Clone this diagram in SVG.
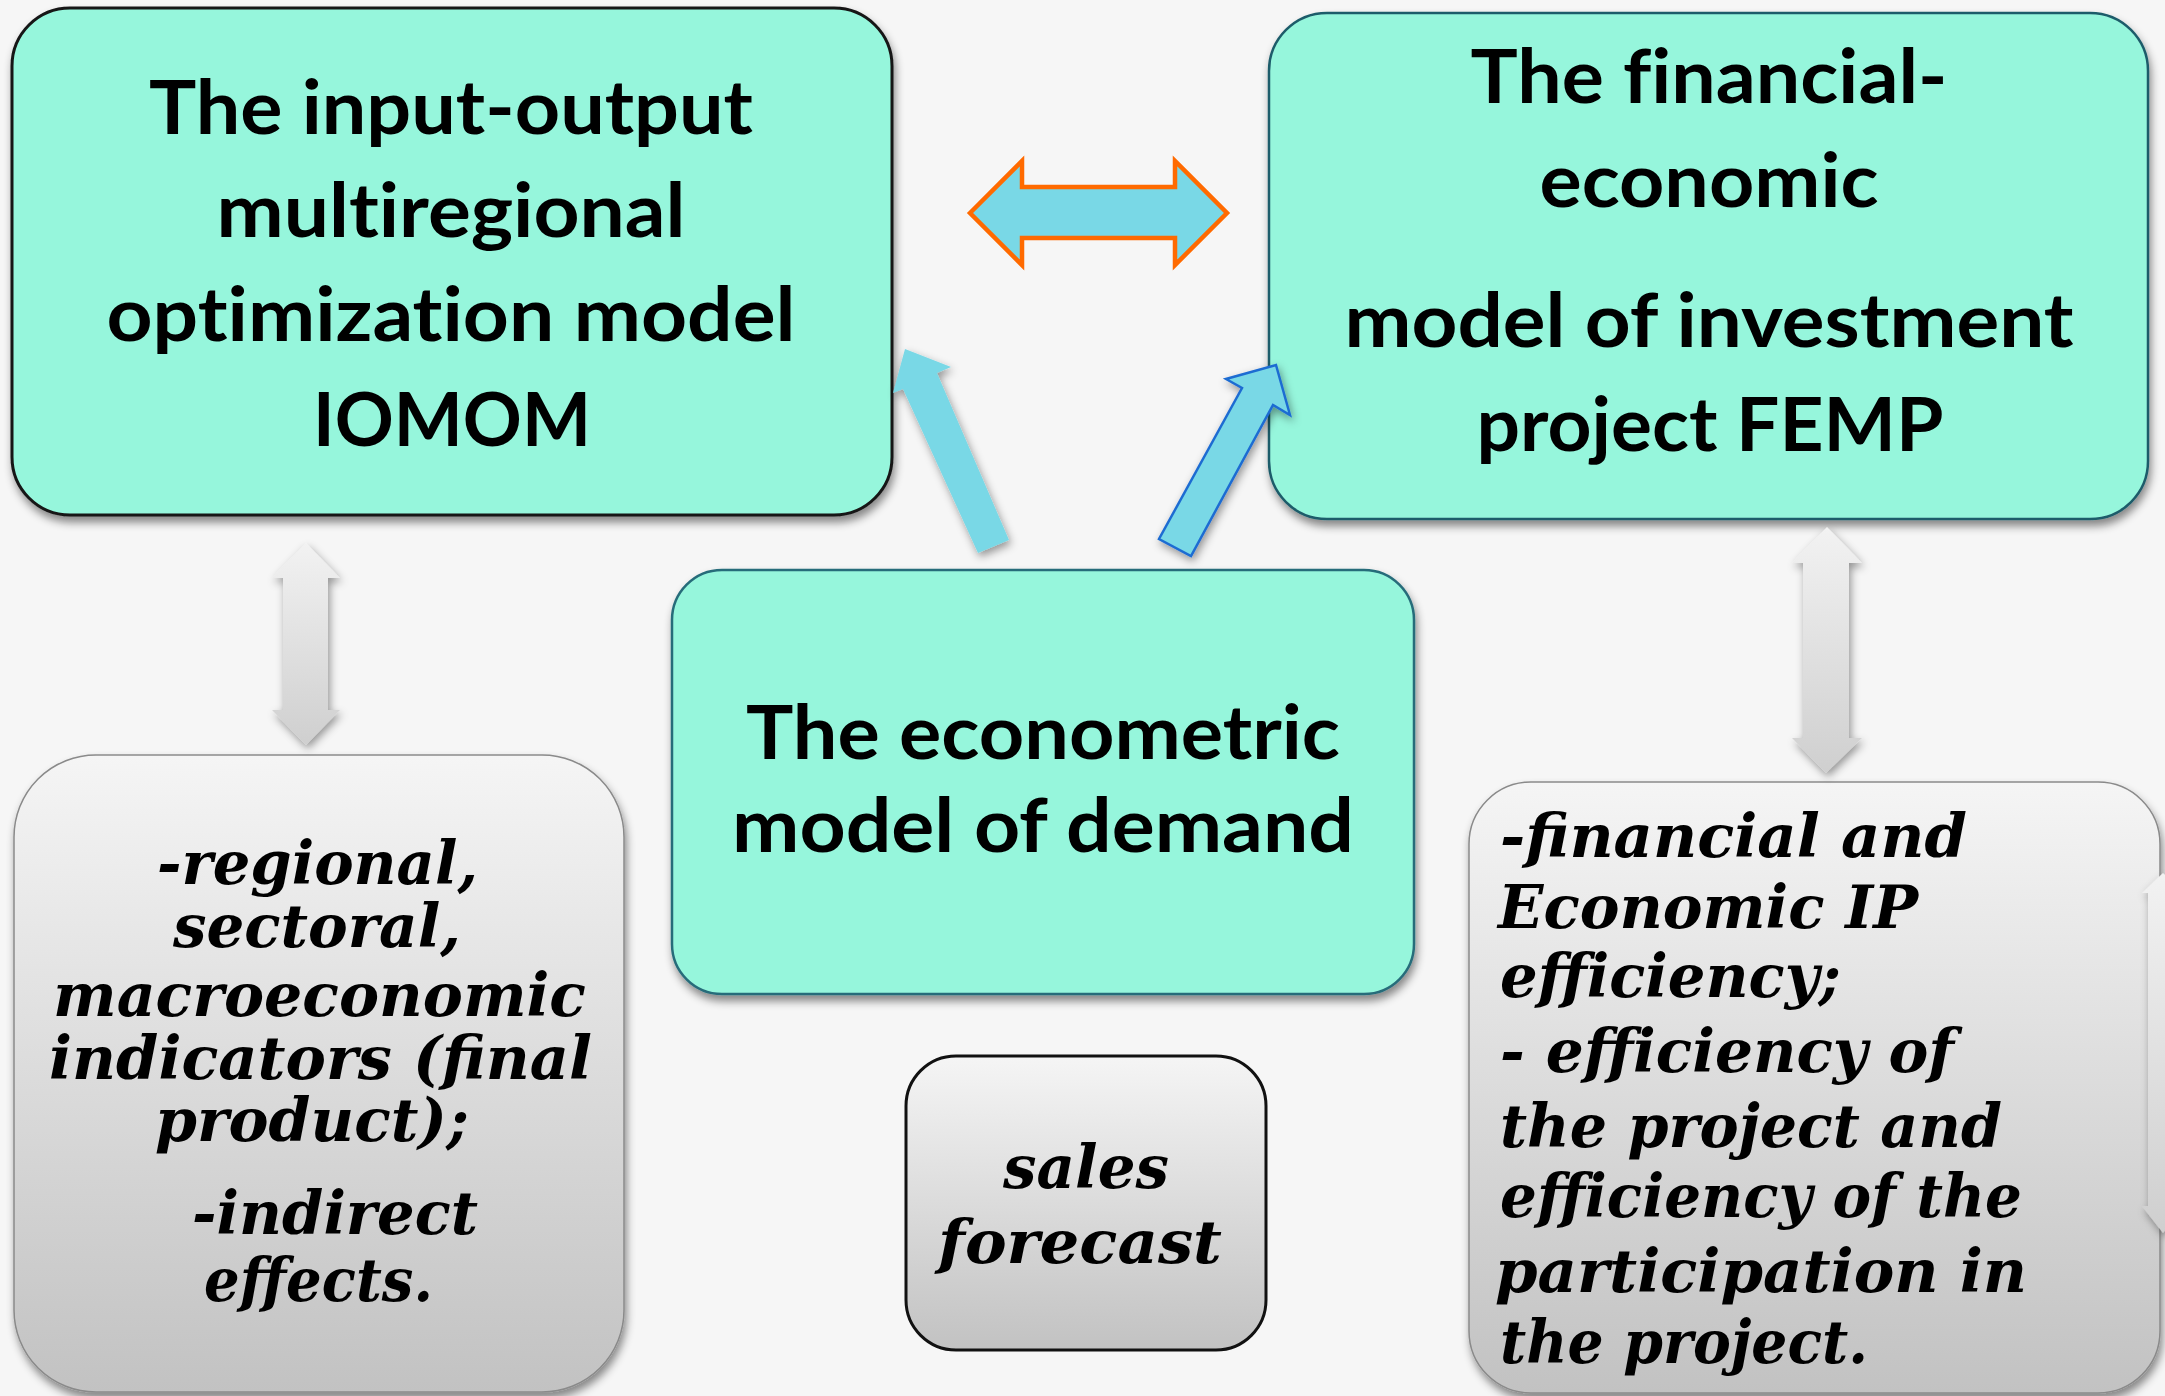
<svg xmlns="http://www.w3.org/2000/svg" width="2165" height="1396" viewBox="0 0 2165 1396">
  <defs>
    <style>
      .model { fill: #96F6DC; }
      .title { font-family: Lato, "Open Sans", "Liberation Sans", sans-serif; font-weight: 700; font-size: 75px; fill: #000; text-anchor: middle; font-variant-ligatures: none; font-feature-settings: "liga" 0, "dlig" 0; }
      .note { font-family: "DejaVu Serif", "Liberation Serif", serif; font-style: italic; font-weight: 700; font-size: 60px; fill: #000; }
      .flow { fill: #79D8E6; }
    </style>
    <linearGradient id="greyFill" x1="0" y1="0" x2="0" y2="1">
      <stop offset="0" stop-color="#F5F5F5"/>
      <stop offset="1" stop-color="#C2C2C2"/>
    </linearGradient>
    <linearGradient id="greyArrow" x1="0" y1="0" x2="0" y2="1">
      <stop offset="0" stop-color="#F2F2F2"/>
      <stop offset="1" stop-color="#CFCFCF"/>
    </linearGradient>
    <filter id="shadow" x="-10%" y="-10%" width="120%" height="130%">
      <feDropShadow dx="2" dy="6" stdDeviation="4" flood-color="#000" flood-opacity="0.45"/>
    </filter>
    <filter id="softShadow" x="-30%" y="-10%" width="160%" height="130%">
      <feDropShadow dx="2" dy="4" stdDeviation="4" flood-color="#000" flood-opacity="0.4"/>
    </filter>
  </defs>

  <!-- page background -->
  <rect x="0" y="0" width="2165" height="1396" fill="#F6F6F6"/>

  <!-- input-output model -->
  <g id="node-iomom">
    <rect class="model" x="12" y="8" width="880" height="507" rx="58" stroke="#151515" stroke-width="3" filter="url(#shadow)"/>
    <text class="title" x="451" y="134" textLength="604" lengthAdjust="spacingAndGlyphs">The input-output</text>
    <text class="title" x="451" y="237" textLength="469" lengthAdjust="spacingAndGlyphs">multiregional</text>
    <text class="title" x="451" y="341" textLength="689" lengthAdjust="spacingAndGlyphs">optimization model</text>
    <text class="title" x="452" y="446" textLength="278" lengthAdjust="spacingAndGlyphs">IOMOM</text>
  </g>

  <!-- financial-economic model -->
  <g id="node-femp">
    <rect class="model" x="1269" y="13" width="879" height="506" rx="58" stroke="#1F5C6A" stroke-width="2.5" filter="url(#shadow)"/>
    <text class="title" x="1709" y="103" textLength="477" lengthAdjust="spacingAndGlyphs">The financial-</text>
    <text class="title" x="1709" y="207" textLength="339" lengthAdjust="spacingAndGlyphs">economic</text>
    <text class="title" x="1709" y="347" textLength="729" lengthAdjust="spacingAndGlyphs">model of investment</text>
    <text class="title" x="1710" y="451" textLength="467" lengthAdjust="spacingAndGlyphs">project FEMP</text>
  </g>

  <!-- econometric model -->
  <g id="node-demand">
    <rect class="model" x="672" y="570" width="742" height="424" rx="50" stroke="#276C7A" stroke-width="2.5" filter="url(#shadow)"/>
    <text class="title" x="1043" y="759" textLength="594" lengthAdjust="spacingAndGlyphs">The econometric</text>
    <text class="title" x="1043" y="852" textLength="622" lengthAdjust="spacingAndGlyphs">model of demand</text>
  </g>

  <!-- sales forecast -->
  <g id="node-sales">
    <rect x="906" y="1056" width="360" height="294" rx="50" fill="url(#greyFill)" stroke="#111" stroke-width="3"/>
    <text class="note" x="1003" y="1188" textLength="166" lengthAdjust="spacingAndGlyphs">sales</text>
    <text class="note" x="938" y="1263" textLength="284" lengthAdjust="spacingAndGlyphs">forecast</text>
  </g>

  <!-- indicators produced by the input-output model -->
  <g id="node-iomom-outputs">
    <rect x="14" y="755" width="610" height="637" rx="82" fill="url(#greyFill)" stroke="#8A8A8A" stroke-width="1.5" filter="url(#shadow)"/>
    <text class="note" x="157" y="884" textLength="321" lengthAdjust="spacingAndGlyphs">-regional,</text>
    <text class="note" x="173" y="947" textLength="288" lengthAdjust="spacingAndGlyphs">sectoral,</text>
    <text class="note" x="53" y="1016" textLength="533" lengthAdjust="spacingAndGlyphs">macroeconomic</text>
    <text class="note" x="49" y="1079" textLength="543" lengthAdjust="spacingAndGlyphs">indicators (final</text>
    <text class="note" x="155" y="1141" textLength="314" lengthAdjust="spacingAndGlyphs">product);</text>
    <text class="note" x="192" y="1234" textLength="286" lengthAdjust="spacingAndGlyphs">-indirect</text>
    <text class="note" x="204" y="1301" textLength="229" lengthAdjust="spacingAndGlyphs">effects.</text>
  </g>

  <!-- efficiency results of the financial-economic model -->
  <g id="node-femp-outputs">
    <rect x="1469" y="782" width="691" height="611" rx="62" fill="url(#greyFill)" stroke="#8A8A8A" stroke-width="1.5" filter="url(#shadow)"/>
    <text class="note" x="1500" y="857" textLength="467" lengthAdjust="spacingAndGlyphs">-financial and</text>
    <text class="note" x="1498" y="928" textLength="420" lengthAdjust="spacingAndGlyphs">Economic IP</text>
    <text class="note" x="1500" y="997" textLength="341" lengthAdjust="spacingAndGlyphs">efficiency;</text>
    <text class="note" x="1500" y="1072" textLength="454" lengthAdjust="spacingAndGlyphs">- efficiency of</text>
    <text class="note" x="1500" y="1147" textLength="502" lengthAdjust="spacingAndGlyphs">the project and</text>
    <text class="note" x="1500" y="1217" textLength="522" lengthAdjust="spacingAndGlyphs">efficiency of the</text>
    <text class="note" x="1495" y="1292" textLength="532" lengthAdjust="spacingAndGlyphs">participation in</text>
    <text class="note" x="1500" y="1363" textLength="368" lengthAdjust="spacingAndGlyphs">the project.</text>
  </g>

  <!-- connectors -->
  <g id="connectors">
    <!-- two-way link between the two top models -->
    <polygon class="flow" points="970,213 1022,161 1022,187 1175,187 1175,161 1227,213 1175,265 1175,238 1022,238 1022,265" stroke="#FF6A00" stroke-width="4.5" stroke-linejoin="miter"/>
    <!-- demand model feeds the input-output model -->
    <polygon class="flow" points="905,349 951,367 937,373 1009,540 978,553 903,389 893,393" filter="url(#softShadow)"/>
    <!-- demand model feeds the financial-economic model -->
    <polygon class="flow" points="1276,365 1290,415 1273,405 1191,556 1159,539 1242,388 1226,379" stroke="#1E6CD2" stroke-width="2.5" stroke-linejoin="miter" filter="url(#softShadow)"/>
    <!-- model to indicator links -->
    <polygon points="306,543 340,578 328,578 328,710 340,710 306,745 272,710 283,710 283,578 272,578" fill="url(#greyArrow)" filter="url(#softShadow)"/>
    <polygon points="1827,527 1862,563 1849,563 1849,738 1862,738 1826,773 1792,738 1803,738 1803,563 1792,563" fill="url(#greyArrow)" filter="url(#softShadow)"/>
    <polygon points="2163,873 2184,893 2178,893 2178,1206 2184,1206 2163,1233 2142,1206 2148,1206 2148,893 2142,893" fill="url(#greyArrow)" filter="url(#softShadow)"/>
  </g>
</svg>
